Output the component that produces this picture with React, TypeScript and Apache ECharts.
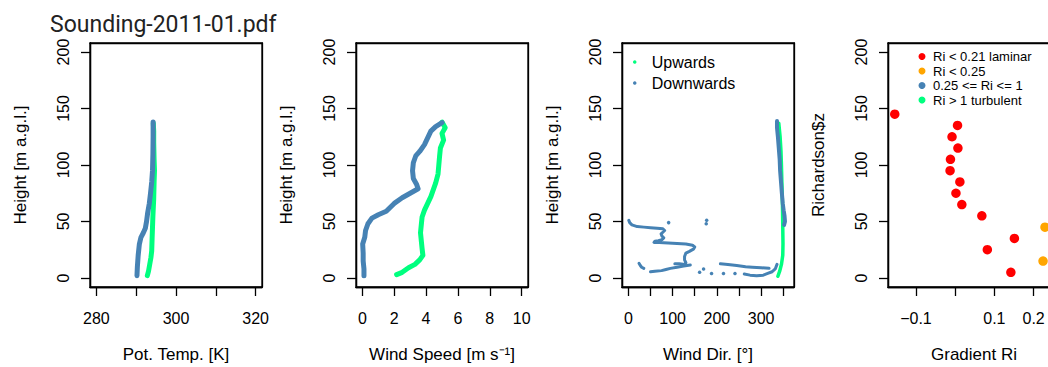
import React, { useEffect, useRef } from 'react';
import * as echarts from 'echarts';

// ---------- data ----------
const chartTitle = 'Sounding-2011-01.pdf';
const heightTicks = [0, 50, 100, 150, 200];
const heightLim = [0, 200];

const tempTicks = [280, 290, 300, 310, 320];
const tempLabels = [280, 300, 320];
const tempLim = [280, 320];

const speedTicks = [0, 2, 4, 6, 8, 10];
const speedLim = [0, 10];

const dirTicks = [0, 50, 100, 150, 200, 250, 300, 350];
const dirLabels = [0, 100, 200, 300];
const dirLim = [0, 360];

const riTicks = [-0.1, 0, 0.1, 0.2];
const riLabels = [-0.1, 0.1, 0.2];
const riLim = [-0.155, 0.251];

const xTitles = ['Pot. Temp. [K]', 'Wind Speed [m s\u207B\u00B9]', 'Wind Dir. [\u00B0]', 'Gradient Ri'];
const yTitles = ['Height [m a.g.l.]', 'Height [m a.g.l.]', 'Height [m a.g.l.]', 'Richardson$z'];

// Pot. temp [K] vs height [m]
const tempUp = [
  [292.8, 2], [293.1, 6], [293.4, 12], [293.7, 18], [293.9, 24], [294.0, 35], [294.1, 45],
  [294.2, 55], [294.4, 70], [294.5, 85], [294.6, 95], [294.5, 105], [294.4, 120], [294.4, 130], [294.3, 137],
];
const tempDown = [
  [290.2, 2], [290.3, 10], [290.5, 20], [290.8, 30], [291.2, 36], [291.8, 40], [292.3, 44],
  [292.6, 50], [292.9, 58], [293.3, 66], [293.6, 75], [293.9, 85], [294.1, 95], [294.2, 110],
  [294.25, 125], [294.25, 138],
];

// Wind speed [m/s] vs height
const speedUp = [
  [2.15, 3], [2.5, 5], [2.9, 9], [3.3, 12], [3.6, 16], [3.8, 20], [3.75, 26], [3.7, 33],
  [3.65, 40], [3.7, 47], [3.75, 54], [3.9, 60], [4.1, 66], [4.3, 72], [4.45, 78], [4.6, 84],
  [4.75, 92], [4.8, 100], [4.85, 108], [4.9, 115], [5.1, 122], [5.0, 128], [5.2, 133], [5.0, 138],
];
const speedDown = [
  [0.1, 2], [0.1, 8], [0.05, 15], [0.05, 22], [0.02, 30], [0.15, 36], [0.2, 42], [0.35, 48],
  [0.6, 53], [1.0, 56], [1.5, 59], [2.0, 66], [2.5, 71], [3.0, 75], [3.5, 79], [3.4, 83],
  [3.2, 88], [3.15, 95], [3.2, 102], [3.35, 108], [3.6, 112], [3.9, 118], [4.1, 124],
  [4.3, 130], [4.6, 134], [5.0, 137.5],
];

// Wind direction [deg] vs height
const dirUp = [
  [338, 1.5], [342, 6], [346, 12], [349, 20], [349.5, 30], [349, 45], [348.5, 60], [348, 70],
  [347, 85], [346, 100], [345, 112], [343, 125], [340, 137],
];
const dirDownUpper = [
  [336, 139], [336, 133], [338, 125], [340, 115], [342, 105], [343, 95], [345, 85], [347, 75],
  [349, 66], [351, 60], [353, 55], [354, 50], [352, 47],
];
const dirDownA = [
  [1, 51], [3, 49], [8, 47], [20, 45.5], [35, 45], [50, 44.5], [65, 44], [78, 43.5], [82, 42],
  [78, 40.5], [74, 39], [76, 37], [80, 35.5], [76, 34], [68, 33], [60, 32.5], [58, 31.5],
  [70, 31.5], [90, 31], [110, 30.5], [130, 30], [145, 29], [150, 27.5], [147, 25.5], [138, 23.5],
  [130, 22], [127, 19], [127, 16], [130, 13.5], [128, 12], [115, 12.5], [105, 12.5],
];
const dirDownB = [
  [140, 11.5], [125, 10.5], [110, 9.5], [95, 8.5], [85, 7.5], [75, 6.5], [60, 6], [50, 5.5],
];
const dirDownC = [[24, 13], [27, 11], [30, 9.5], [35, 8.5]];
const dirDownD = [
  [208, 12.5], [225, 12], [245, 11], [265, 10], [280, 9.5], [300, 9], [318, 8.5],
];
const dirDownE = [
  [262, 3.5], [275, 2.5], [290, 2], [305, 2.5], [315, 4], [325, 5.5], [332, 8], [336, 12],
];
const dirDownDots = [
  [91, 49], [176, 48], [177, 51], [161, 5], [170, 8], [188, 4], [215, 4], [241, 4],
];

// Gradient Richardson number vs height
const riLaminarZ = [145, 135, 125, 115, 105, 95, 85, 75, 65, 55, 35, 25, 5];
const riLaminar = [-0.154, 0.006, -0.008, 0.007, -0.012, -0.013, 0.012, 0.002, 0.017, 0.068, 0.151, 0.082, 0.142];
const riCriticalZ = [45, 15];
const riCritical = [0.229, 0.224];
const riWeakZ: number[] = [];
const riWeak: number[] = [];
const riTurbZ: number[] = [];
const riTurb: number[] = [];

const legendDir = ['Upwards', 'Downwards'];
const legendRi = ['Ri < 0.21 laminar', 'Ri < 0.25', '0.25 <= Ri <= 1', 'Ri > 1 turbulent'];

// ---------- styles ----------
const FONT = 'Liberation Sans, Arial, sans-serif';
const TITLE_FONT = 'Roboto, sans-serif';
const UP = '#00FF7F';
const DOWN = '#4682B4';
const RED = '#FF0000';
const ORANGE = '#FFA500';

const LEFTS = [90, 356, 622, 888];
const TOP = 43;
const W = 172;
const H = 244;

const ext = (lim: number[]) => {
  const d = (lim[1] - lim[0]) * 0.04;
  return [lim[0] - d, lim[1] + d];
};
const fmt = (v: number) => String(Math.round(v * 1000) / 1000).replace('-', '\u2212');
const box = () => ({ color: '#000', width: 1.3 });

function xAxisDef(i: number, lim: number[], ticks: number[], labels: number[]) {
  const [mn, mx] = ext(lim);
  return {
    type: 'value', gridIndex: i, min: mn, max: mx, position: 'bottom',
    name: xTitles[i], nameLocation: 'middle', nameGap: 59,
    nameTextStyle: { fontSize: 17, color: '#000', fontFamily: FONT },
    axisLine: { show: true, onZero: false, lineStyle: box() },
    splitLine: { show: false },
    axisTick: { show: true, inside: false, length: 9, customValues: ticks, lineStyle: box() },
    axisLabel: { show: true, customValues: labels, margin: 23, fontSize: 16, color: '#000', fontFamily: FONT, formatter: fmt },
  };
}
function yAxisDef(i: number) {
  const [mn, mx] = ext(heightLim);
  return {
    type: 'value', gridIndex: i, min: mn, max: mx, position: 'left',
    name: yTitles[i], nameLocation: 'middle', nameRotate: 90, nameGap: 61,
    nameTextStyle: { fontSize: 17, color: '#000', fontFamily: FONT },
    axisLine: { show: true, onZero: false, lineStyle: box() },
    splitLine: { show: false },
    axisTick: { show: true, inside: false, length: 9, customValues: heightTicks, lineStyle: box() },
    axisLabel: { show: true, customValues: heightTicks, rotate: 90, margin: 19, fontSize: 16, color: '#000', fontFamily: FONT, formatter: fmt },
  };
}

// frame-only axis for the overlay chart
function frameAxis(i: number, position: string) {
  return {
    type: 'value', gridIndex: i, min: 0, max: 1, position,
    axisLine: { show: true, onZero: false, lineStyle: { color: '#000', width: 1.3 } },
    splitLine: { show: false }, axisTick: { show: false }, axisLabel: { show: false },
  };
}

function lineS(name: string, data: number[][], i: number, color: string, width: number) {
  return {
    type: 'line', name, xAxisIndex: i, yAxisIndex: i, data, symbol: 'none', showSymbol: false,
    itemStyle: { color }, lineStyle: { color, width, cap: 'round', join: 'round' }, silent: true,
  };
}
function scatterS(name: string, data: number[][], i: number, color: string, size: number) {
  return {
    type: 'scatter', name, xAxisIndex: i, yAxisIndex: i, data, symbol: 'circle', symbolSize: size,
    itemStyle: { color, opacity: 1 }, silent: true,
  };
}
const zip = (xs: number[], zs: number[]) => xs.map((x, k) => [x, zs[k]]);

export default function App() {
  const ref = useRef<HTMLDivElement>(null);
  const frameRef = useRef<HTMLDivElement>(null);
  useEffect(() => {
    if (!ref.current || !frameRef.current) return;
    const chart = echarts.init(ref.current, undefined, { renderer: 'svg' });
    const frames = echarts.init(frameRef.current, undefined, { renderer: 'svg' });

    const option: any = {
      animation: false,
      backgroundColor: '#fff',
      title: {
        text: chartTitle, left: 50, top: 13, padding: 0,
        textStyle: { fontSize: 23, fontFamily: TITLE_FONT, fontWeight: 'normal', color: '#222' },
      },
      grid: LEFTS.map((l) => ({
        left: l, top: TOP, width: W, height: H, show: false, outerBoundsMode: 'none',
      })),
      xAxis: [
        xAxisDef(0, tempLim, tempTicks, tempLabels),
        xAxisDef(1, speedLim, speedTicks, speedTicks),
        xAxisDef(2, dirLim, dirTicks, dirLabels),
        xAxisDef(3, riLim, riTicks, riLabels),
      ],
      yAxis: [yAxisDef(0), yAxisDef(1), yAxisDef(2), yAxisDef(3)],
      legend: [
        {
          data: legendDir, orient: 'vertical', left: 633, top: 54, padding: 0, icon: 'circle',
          itemWidth: 8, itemHeight: 3.5, itemGap: 5, selectedMode: false,
          textStyle: { fontSize: 16, color: '#000', fontFamily: FONT, padding: [0, 0, 0, 8] },
        },
        {
          data: legendRi, orient: 'vertical', left: 918.5, top: 50, padding: 0, icon: 'circle',
          itemWidth: 12, itemHeight: 7, itemGap: 1.5, selectedMode: false,
          textStyle: { fontSize: 13, color: '#000', fontFamily: FONT },
        },
      ],
      series: [
        lineS('Upwards', tempUp, 0, UP, 5),
        lineS('Downwards', tempDown, 0, DOWN, 5),
        lineS('Upwards', speedUp, 1, UP, 5),
        lineS('Downwards', speedDown, 1, DOWN, 5),
        lineS('Upwards', dirUp, 2, UP, 3.5),
        lineS('Downwards', dirDownUpper, 2, DOWN, 4),
        lineS('Downwards', dirDownA, 2, DOWN, 3),
        lineS('Downwards', dirDownB, 2, DOWN, 3),
        lineS('Downwards', dirDownC, 2, DOWN, 3),
        lineS('Downwards', dirDownD, 2, DOWN, 3),
        lineS('Downwards', dirDownE, 2, DOWN, 3),
        scatterS('Downwards', dirDownDots, 2, DOWN, 3.5),
        scatterS(legendRi[0], zip(riLaminar, riLaminarZ), 3, RED, 9.5),
        scatterS(legendRi[1], zip(riCritical, riCriticalZ), 3, ORANGE, 9.5),
        scatterS(legendRi[2], zip(riWeak, riWeakZ), 3, DOWN, 9.5),
        scatterS(legendRi[3], zip(riTurb, riTurbZ), 3, UP, 9.5),
      ],
    };
    chart.setOption(option);

    // Overlay chart that only draws the plot frames (boxes) of the four panels.
    const frameOption: any = {
      animation: false,
      grid: LEFTS.map((l) => ({
        left: l, top: TOP, width: W, height: H, show: true, borderColor: '#000', borderWidth: 1.3,
        backgroundColor: 'rgba(0,0,0,0)', outerBoundsMode: 'none',
      })),
      xAxis: [0, 1, 2, 3].flatMap((i) => [frameAxis(i, 'bottom'), frameAxis(i, 'top')]),
      yAxis: [0, 1, 2, 3].flatMap((i) => [frameAxis(i, 'left'), frameAxis(i, 'right')]),
      series: [0, 1, 2, 3].map((i) => ({
        type: 'scatter', xAxisIndex: i * 2, yAxisIndex: i * 2, data: [] as number[][], silent: true,
      })),
    };
    frames.setOption(frameOption);

    return () => {
      chart.dispose();
      frames.dispose();
    };
  }, []);
  return (
    <div style={{ position: 'fixed', left: 0, top: 0, width: 1048, height: 367, background: '#fff' }}>
      <div ref={ref} style={{ position: 'absolute', left: 0, top: 0, width: 1048, height: 367 }} />
      <div
        ref={frameRef}
        style={{ position: 'absolute', left: 0, top: 0, width: 1048, height: 367, pointerEvents: 'none' }}
      />
    </div>
  );
}
